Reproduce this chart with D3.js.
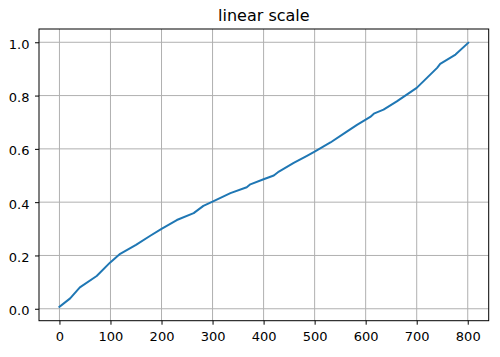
<!DOCTYPE html>
<html>
<head>
<meta charset="utf-8">
<script src="https://cdn.jsdelivr.net/npm/d3@7"></script>
<style>
  html, body { margin: 0; padding: 0; background: #fff; }
  svg { display: block; font-family: "DejaVu Sans", sans-serif; }
</style>
</head>
<body>
<svg id="chart" width="500" height="357"></svg>
<script>
// Data (sorted values vs index)
const xValues = [0, 21, 40, 73, 99, 119, 150, 178, 200, 230, 263, 282, 300, 335, 367, 374, 400, 420, 430, 459, 485, 500, 531, 563, 583, 609, 616, 635, 661, 700, 740, 746, 776, 801];
const yValues = [0.007, 0.039, 0.080, 0.123, 0.173, 0.206, 0.240, 0.274, 0.300, 0.333, 0.359, 0.386, 0.402, 0.434, 0.456, 0.467, 0.486, 0.500, 0.515, 0.547, 0.574, 0.590, 0.624, 0.665, 0.690, 0.720, 0.732, 0.747, 0.778, 0.829, 0.904, 0.919, 0.954, 0.998];
const xTicks = [0, 100, 200, 300, 400, 500, 600, 700, 800];
const yTicks = [0.0, 0.2, 0.4, 0.6, 0.8, 1.0];
const chartTitle = "linear scale";

const svg = d3.select("#chart");
const mLeft = 39, mRight = 488.7, mTop = 29, mBottom = 320.7;

const x = d3.scaleLinear().domain([-40.05, 841.05]).range([mLeft, mRight]);
const y = d3.scaleLinear().domain([-0.0448, 1.0498]).range([mBottom, mTop]);

// grid
const grid = svg.append("g");
grid.selectAll("line.vx").data(xTicks).enter().append("line")
  .attr("x1", d => x(d)).attr("x2", d => x(d))
  .attr("y1", mTop).attr("y2", mBottom)
  .attr("stroke", "#b0b0b0").attr("stroke-width", 1);
grid.selectAll("line.hy").data(yTicks).enter().append("line")
  .attr("x1", mLeft).attr("x2", mRight)
  .attr("y1", d => y(d)).attr("y2", d => y(d))
  .attr("stroke", "#b0b0b0").attr("stroke-width", 1);

// line
const line = d3.line().x((d, i) => x(xValues[i])).y(d => y(d));
svg.append("path").datum(yValues)
  .attr("d", line)
  .attr("fill", "none")
  .attr("stroke", "#1f77b4")
  .attr("stroke-width", 2)
  .attr("stroke-linejoin", "round")
  .attr("stroke-linecap", "square");

// axes
const xAxis = d3.axisBottom(x).tickValues(xTicks).tickFormat(d3.format("d"))
  .tickSize(4).tickPadding(7);
const yAxis = d3.axisLeft(y).tickValues(yTicks).tickFormat(d3.format(".1f"))
  .tickSize(4).tickPadding(5.5);

const gx = svg.append("g").attr("transform", `translate(0,${mBottom})`).call(xAxis);
const gy = svg.append("g").attr("transform", `translate(${mLeft},0)`).call(yAxis);
[gx, gy].forEach(g => {
  g.select(".domain").remove();
  g.selectAll(".tick line").attr("stroke", "#000").attr("stroke-width", 1);
  g.selectAll(".tick text").attr("fill", "#000")
    .style("font-family", "'DejaVu Sans', sans-serif").style("font-size", "13px");
});
gy.selectAll(".tick text").attr("dy", "0.45em");

// spines
svg.append("rect")
  .attr("x", mLeft).attr("y", mTop)
  .attr("width", mRight - mLeft).attr("height", mBottom - mTop)
  .attr("fill", "none").attr("stroke", "#000").attr("stroke-width", 1);

// title
svg.append("text")
  .attr("x", (mLeft + mRight) / 2).attr("y", 21)
  .attr("text-anchor", "middle")
  .style("font-family", "'DejaVu Sans', sans-serif")
  .style("font-size", "16px")
  .attr("fill", "#000")
  .text(chartTitle);
</script>
</body>
</html>
